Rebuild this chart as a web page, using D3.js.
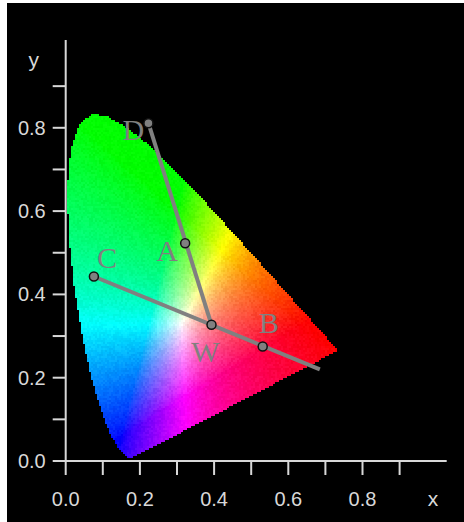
<!DOCTYPE html>
<html>
<head>
<meta charset="utf-8">
<script src="https://cdn.jsdelivr.net/npm/d3@7"></script>
<style>
  html, body { margin: 0; padding: 0; background: #fff; }
  svg { display: block; }
</style>
</head>
<body>
<svg id="chart" width="464" height="522"></svg>
<script>
// CIE 1931 2° spectral locus, 380–700 nm in 5 nm steps
const locusX = [0.1741,0.1740,0.1738,0.1736,0.1733,0.1730,0.1726,0.1721,0.1714,0.1703,0.1689,0.1669,0.1644,0.1611,0.1566,0.1510,0.1440,0.1355,0.1241,0.1096,0.0913,0.0687,0.0454,0.0235,0.0082,0.0039,0.0139,0.0389,0.0743,0.1142,0.1547,0.1929,0.2296,0.2658,0.3016,0.3373,0.3731,0.4087,0.4441,0.4788,0.5125,0.5448,0.5752,0.6029,0.6270,0.6482,0.6658,0.6801,0.6915,0.7006,0.7079,0.7140,0.7190,0.7230,0.7260,0.7283,0.7300,0.7311,0.7320,0.7327,0.7334,0.7340,0.7344,0.7346,0.7347];
const locusY = [0.0050,0.0050,0.0049,0.0049,0.0048,0.0048,0.0048,0.0048,0.0051,0.0058,0.0069,0.0086,0.0109,0.0138,0.0177,0.0227,0.0297,0.0399,0.0578,0.0868,0.1327,0.2007,0.2950,0.4127,0.5384,0.6548,0.7502,0.8120,0.8338,0.8262,0.8059,0.7816,0.7543,0.7243,0.6923,0.6589,0.6245,0.5896,0.5547,0.5202,0.4866,0.4544,0.4242,0.3965,0.3725,0.3514,0.3340,0.3197,0.3083,0.2993,0.2920,0.2859,0.2809,0.2770,0.2740,0.2717,0.2700,0.2689,0.2680,0.2673,0.2666,0.2660,0.2656,0.2654,0.2653];

// Labelled chromaticity points
const pointNames = ["D", "A", "C", "W", "B"];
const pointX = [0.223, 0.322, 0.076, 0.393, 0.531];
const pointY = [0.811, 0.523, 0.443, 0.327, 0.275];

// Mixing lines (start and end chromaticities)
const lineX1 = [0.223, 0.076];
const lineY1 = [0.811, 0.443];
const lineX2 = [0.393, 0.685];
const lineY2 = [0.327, 0.220];

// Axis ticks and labels
const xTicks = [0, 0.1, 0.2, 0.3, 0.4, 0.5, 0.6, 0.7, 0.8, 0.9];
const yTicks = [0, 0.1, 0.2, 0.3, 0.4, 0.5, 0.6, 0.7, 0.8, 0.9];
const xTickLabels = ["0.0", "0.2", "0.4", "0.6", "0.8"];
const yTickLabels = ["0.0", "0.2", "0.4", "0.6", "0.8"];

const W = 464, H = 522;
const svg = d3.select("#chart");

const x = d3.scaleLinear().domain([0, 1]).range([65.7, 436.7]);
const y = d3.scaleLinear().domain([0, 1]).range([461, 44.5]);

// black panel
svg.append("rect").attr("x", 7).attr("y", 3).attr("width", W - 7).attr("height", H - 3).attr("fill", "#000");

// ---- gamut fill rendered into a canvas ----
const locus = locusX.map((v, i) => [v, locusY[i]]);
const px0 = Math.floor(x(0)), px1 = Math.ceil(x(0.76));
const py0 = Math.floor(y(0.86)), py1 = Math.ceil(y(0));
const cw = px1 - px0, ch = py1 - py0;
const canvas = document.createElement("canvas");
canvas.width = cw; canvas.height = ch;
const ctx = canvas.getContext("2d");
const img = ctx.createImageData(cw, ch);

function hash(a, b) {
  let h = (a * 374761393 + b * 668265263) | 0;
  h = (h ^ (h >>> 13)) * 1274126177 | 0;
  h = h ^ (h >>> 16);
  return ((h >>> 0) % 1000) / 1000;
}
const gammaExp = 0.72;
const block = 2;
for (let j = 0; j < ch; j++) {
  for (let i = 0; i < cw; i++) {
    const bi = Math.floor(i / block) * block + block / 2;
    const bj = Math.floor(j / block) * block + block / 2;
    const cx = x.invert(px0 + bi), cy = y.invert(py0 + bj);
    if (cy <= 0.0005 || !d3.polygonContains(locus, [cx, cy])) continue;
    const X = cx / cy, Y = 1, Z = (1 - cx - cy) / cy;
    let r = 3.2406 * X - 1.5372 * Y - 0.4986 * Z;
    let g = -0.9689 * X + 1.8758 * Y + 0.0415 * Z;
    let b = 0.0557 * X - 0.2040 * Y + 1.0570 * Z;
    r = Math.max(r, 0); g = Math.max(g, 0); b = Math.max(b, 0);
    const m = Math.max(r, g, b);
    r = Math.pow(r / m, gammaExp); g = Math.pow(g / m, gammaExp); b = Math.pow(b / m, gammaExp);
    const n = (hash(Math.floor(i / block), Math.floor(j / block)) - 0.5) * 0.07;
    const k = (j * cw + i) * 4;
    img.data[k] = Math.round(255 * Math.min(1, Math.max(0, r + n)));
    img.data[k + 1] = Math.round(255 * Math.min(1, Math.max(0, g + n)));
    img.data[k + 2] = Math.round(255 * Math.min(1, Math.max(0, b + n)));
    img.data[k + 3] = 255;
  }
}
ctx.putImageData(img, 0, 0);
svg.append("image")
  .attr("x", px0).attr("y", py0)
  .attr("width", cw).attr("height", ch)
  .attr("href", canvas.toDataURL());

// ---- axes ----
const axisColor = "#d8d8d8";
const tickFont = "Liberation Sans, Arial, sans-serif";

const gx = svg.append("g").attr("transform", `translate(0,${y(0)})`);
gx.append("line").attr("x1", x(0)).attr("x2", 446.7).attr("y1", 0).attr("y2", 0)
  .attr("stroke", axisColor).attr("stroke-width", 2);
gx.selectAll("line.tick").data(xTicks).join("line").attr("class", "tick")
  .attr("x1", d => x(d)).attr("x2", d => x(d)).attr("y1", 0).attr("y2", 14)
  .attr("stroke", axisColor).attr("stroke-width", 2);
gx.selectAll("text.tl").data(xTickLabels).join("text").attr("class", "tl")
  .attr("x", d => x(+d)).attr("y", 45)
  .attr("text-anchor", "middle").attr("fill", axisColor)
  .attr("font-family", tickFont).attr("font-size", 20)
  .text(d => d);
gx.append("text").attr("x", x(0.99)).attr("y", 45)
  .attr("text-anchor", "middle").attr("fill", axisColor)
  .attr("font-family", tickFont).attr("font-size", 21).text("x");

const gy = svg.append("g").attr("transform", `translate(${x(0)},0)`);
gy.append("line").attr("x1", 0).attr("x2", 0).attr("y1", y(0)).attr("y2", 40)
  .attr("stroke", axisColor).attr("stroke-width", 2);
gy.selectAll("line.tick").data(yTicks).join("line").attr("class", "tick")
  .attr("x1", -13).attr("x2", 0).attr("y1", d => y(d)).attr("y2", d => y(d))
  .attr("stroke", axisColor).attr("stroke-width", 2);
gy.selectAll("text.tl").data(yTickLabels).join("text").attr("class", "tl")
  .attr("x", -20).attr("y", d => y(+d) + 7)
  .attr("text-anchor", "end").attr("fill", axisColor)
  .attr("font-family", tickFont).attr("font-size", 20)
  .text(d => d);
gy.append("text").attr("x", -32).attr("y", 67)
  .attr("text-anchor", "middle").attr("fill", axisColor)
  .attr("font-family", tickFont).attr("font-size", 21).text("y");

// ---- mixing lines ----
const markColor = "#808080";
svg.selectAll("line.mix").data(lineX1).join("line").attr("class", "mix")
  .attr("x1", (d, i) => x(lineX1[i])).attr("y1", (d, i) => y(lineY1[i]))
  .attr("x2", (d, i) => x(lineX2[i])).attr("y2", (d, i) => y(lineY2[i]))
  .attr("stroke", markColor).attr("stroke-width", 4);

// ---- points ----
svg.selectAll("circle.pt").data(pointNames).join("circle").attr("class", "pt")
  .attr("cx", (d, i) => x(pointX[i])).attr("cy", (d, i) => y(pointY[i]))
  .attr("r", 4.5).attr("fill", markColor).attr("stroke", "#111").attr("stroke-width", 1.5);

// ---- point labels ----
const labelDx = { D: -15, A: -18, C: 13, W: -6, B: 6 };
const labelDy = { D: 17, A: 18, C: -8, W: 37, B: -13 };
svg.selectAll("text.pl").data(pointNames).join("text").attr("class", "pl")
  .attr("x", (d, i) => x(pointX[i]) + labelDx[d])
  .attr("y", (d, i) => y(pointY[i]) + labelDy[d])
  .attr("text-anchor", "middle")
  .attr("fill", markColor)
  .attr("font-family", "Liberation Serif, Times New Roman, serif")
  .attr("font-size", 30)
  .text(d => d);
</script>
</body>
</html>
